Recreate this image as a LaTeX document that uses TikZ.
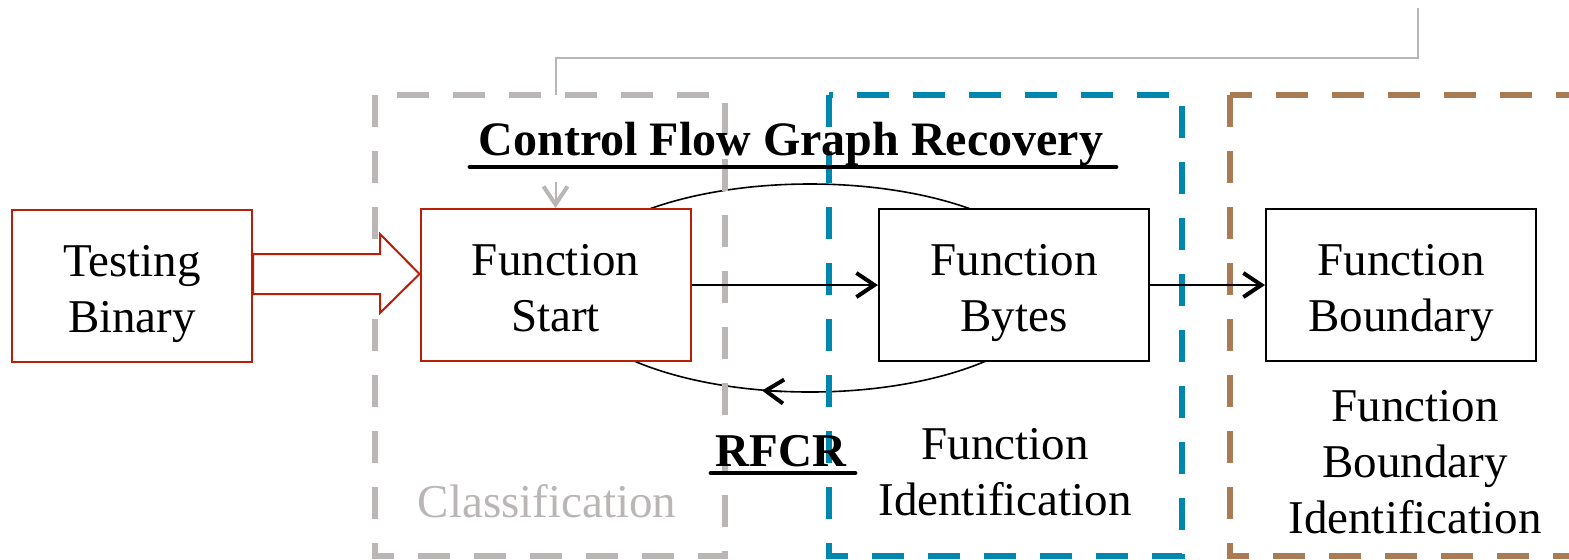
\documentclass[tikz,border=0pt]{standalone}
\usepackage{fontspec}
\setmainfont{Liberation Serif}
\usetikzlibrary{arrows.meta,calc}
\definecolor{redc}{RGB}{184,30,8}
\definecolor{grayc}{RGB}{186,182,181}
\definecolor{bluec}{RGB}{0,135,176}
\definecolor{brownc}{RGB}{168,123,85}
\newcommand{\boxtext}[2]{\raisebox{-10pt}[0pt][0pt]{\begin{tabular}{@{}c@{}}#1\\#2\end{tabular}}}
\tikzset{
  txt/.style={font=\fontsize{23.5}{28}\selectfont, align=center},
  box/.style={draw, line width=1pt, fill=white, minimum width=135pt, minimum height=76pt, inner sep=0pt, font=\fontsize{23.5}{28}\selectfont},
  redbox/.style={box, draw=redc},
  dbox/.style={line width=3pt, dash pattern=on 16pt off 12pt},
  arr/.style={line width=0.8pt, -{Straight Barb[length=9pt, width=12pt, line width=2pt]}},
  garr/.style={draw=grayc, line width=1pt, -{Straight Barb[length=9pt, width=12pt, line width=2pt]}},
  uline/.style={line width=2.4pt, line cap=round},
}
\begin{document}
\begin{tikzpicture}[x=0.5pt,y=-0.5pt]
\useasboundingbox (0,0) rectangle (1569,559);
\clip (0,0) rectangle (1569,559);
% ellipse loop
\draw[line width=0.8pt] (810,288) ellipse [x radius=247, y radius=104];
% dashed regions
\draw[dbox, draw=grayc] (375,95) rectangle (725,556);
\draw[dbox, draw=bluec] (829,95) rectangle (1182,556);
\draw[dbox, draw=brownc] (1230,95) rectangle (1620,556);
% top connector
\draw[grayc, line width=1pt] (556,95) |- (1418,58) -- (1418,8);
% nodes
\node[redbox, minimum width=120pt] (tb) at (132,286) {\boxtext{Testing}{Binary}};
\node[redbox] (fs) at (555.5,285) {\boxtext{Function}{Start}};
\node[box] (fb) at (1014,285) {\boxtext{Function}{Bytes}};
\node[box] (fbd) at (1401,285) {\boxtext{Function}{Boundary}};
% hollow arrow
\draw[redc, line width=1pt, fill=white] (tb.east |- 0,254) -- (380,254) -- (380,234) -- (fs.west |- 0,274) -- (380,313) -- (380,294) -- (tb.east |- 0,294) -- cycle;
% arrows
\draw[arr] (fs) -- (fb);
\draw[arr] (fb) -- (fbd);
\draw[arr] (782,391.5) -- (762,390.5);
\draw[garr] ($(fs.north)+(0,-26)$) -- (fs.north);
% labels
\node[font=\fontsize{24}{28}\selectfont\bfseries, anchor=base] (cfg) at (791,155) {Control Flow Graph Recovery};
\draw[uline] (470,167) -- (1116,167);
\node[font=\fontsize{23.5}{28}\selectfont\bfseries, anchor=base] (rfcr) at (781,466) {RFCR};
\draw[uline] (711,473) -- (855,473);
\node[font=\fontsize{23.5}{28}\selectfont, text=grayc, anchor=base] (cls) at (547,517) {Classification};
\node[txt] (fid) at (1005,472) {Function\\Identification};
\node[txt] (fbid) at (1415,462) {Function\\Boundary\\Identification};
\end{tikzpicture}
\end{document}
